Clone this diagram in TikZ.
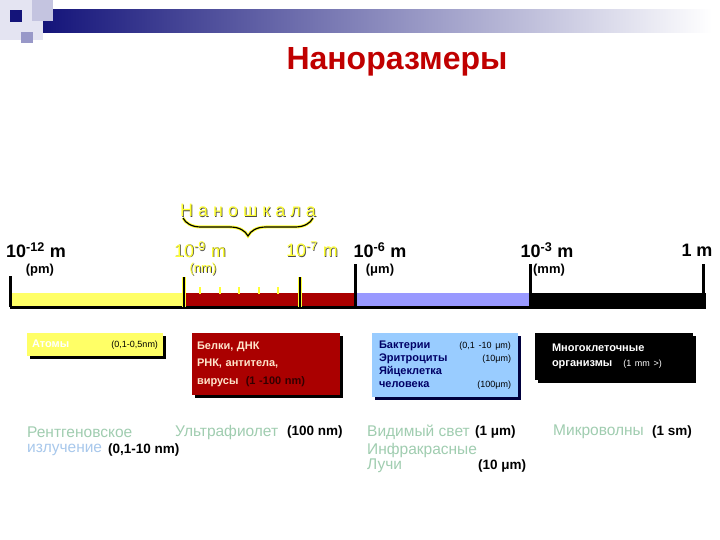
\documentclass[tikz,border=0pt]{standalone}
\usepackage{fontspec}
\setmainfont{Liberation Sans}
\usetikzlibrary{positioning,shadows,decorations.pathreplacing}

\definecolor{titlered}{HTML}{C00000}
\definecolor{navyband}{HTML}{14147A}
\definecolor{decolight}{HTML}{E4E4F2}
\definecolor{decomid}{HTML}{C4C4E0}
\definecolor{decodeep}{HTML}{9898C8}
\definecolor{nanoyellow}{HTML}{FFFF33}
\definecolor{baryellow}{HTML}{FFFF66}
\definecolor{barred}{HTML}{AA0000}
\definecolor{barviolet}{HTML}{9999FF}
\definecolor{cellblue}{HTML}{99CCFF}
\definecolor{cellnavy}{HTML}{000066}
\definecolor{protcream}{HTML}{FFE6CC}
\definecolor{wavegreen}{HTML}{A0CDB0}
\definecolor{waveblue}{HTML}{A8C8EC}

% yellow text with a dark shadow behind it
\newcommand{\glowtext}[1]{\makebox[0pt][l]{\kern0.8pt\raisebox{-0.8pt}{\color{black!70}#1}}{\color{nanoyellow}#1}}
\newcommand{\smallval}{\normalfont\fontsize{9}{10}\selectfont}

\tikzset{
  scalelbl/.style={font=\fontsize{18}{20}\selectfont\bfseries, inner sep=0pt},
  unitlbl/.style={font=\fontsize{13}{15}\selectfont\bfseries, inner sep=0pt},
  nanolbl/.style={font=\fontsize{18}{20}\selectfont, inner sep=0pt},
  nanounit/.style={font=\fontsize{13}{15}\selectfont, inner sep=0pt},
  bigtick/.style={line width=3pt},
  infobox/.style={inner ysep=3pt, align=left, font=\fontsize{11}{13}\selectfont\bfseries,
    drop shadow={shadow xshift=3pt, shadow yshift=-3pt, fill=black, opacity=1}},
  wave/.style={anchor=west, inner sep=0pt, font=\fontsize{15.5}{17}\selectfont},
  waveval/.style={wave, font=\fontsize{13.5}{15}\selectfont\bfseries}
}

\begin{document}
\begin{tikzpicture}[x=1pt, y=-1pt]
  \useasboundingbox[fill=white] (0,0) rectangle (720,540);

  % header band
  \fill[decolight] (0,0) rectangle (43,40);
  \shade[left color=navyband, right color=white] (43,10) rectangle (712,33);
  \fill[decomid] (32,0) rectangle (53,21);
  \fill[navyband] (10,10) rectangle (22,22);
  \fill[decodeep] (21,32) rectangle (33,43);
  \node[font=\fontsize{32}{36}\selectfont\bfseries, text=titlered] (title) at (397,62) {Наноразмеры};

  % nanoscale brace
  \node[font=\fontsize{18}{20}\selectfont, inner sep=0pt] (nanoscale) at (248,211) {\glowtext{Н а н о ш к а л а}};
  \draw[nanoyellow, line width=3pt, decorate, decoration={brace, mirror, amplitude=18pt}] (183,218) -- (313,218);
  \draw[line width=1.2pt, decorate, decoration={brace, mirror, amplitude=18pt}] (183,218) -- (313,218);

  % scale points
  \coordinate (pm) at (10,307);
  \coordinate (nm) at (184,307);
  \coordinate (hnm) at (300,307);
  \coordinate (um) at (355,307);
  \coordinate (mm) at (530,307);
  \coordinate (m) at (703,307);

  % coloured bar
  \fill[baryellow] (pm) ++(0,-14) rectangle (nm);
  \fill[barred] (nm) ++(0,-14) rectangle (um);
  \fill[barviolet] (um) ++(0,-14) rectangle (mm);
  \fill[black] (mm) ++(0,-14) rectangle (706,309);
  \draw[line width=3pt] (pm) -- (706,307);
  \foreach \x in {200,220,239,259,278}
    \draw[nanoyellow, line width=1.2pt] (\x,287) -- (\x,294);

  % ticks
  \draw[bigtick] (pm) -- ++(0,-31);
  \foreach \p in {nm,hnm}{
    \draw[nanoyellow, line width=4.5pt] (\p) -- ++(0,-30);
    \draw[line width=1.5pt] (\p) -- ++(0,-30);
  }
  \foreach \p in {um,mm,m}
    \draw[bigtick] (\p) -- ++(0,-43);

  % labels
  \node[scalelbl] (lpm) at (36,250) {10\textsuperscript{-12} m};
  \node[unitlbl] (upm) at (40,270) {(pm)};
  \node[nanolbl] (lnm) at (200,250) {\glowtext{10\textsuperscript{-9} m}};
  \node[nanounit] (unm) at (203,270) {\glowtext{(nm)}};
  \node[nanolbl] (lhnm) at (312,250) {\glowtext{10\textsuperscript{-7} m}};
  \node[scalelbl] (lum) at (380,250) {10\textsuperscript{-6} m};
  \node[unitlbl] (uum) at (380,270) {(μm)};
  \node[scalelbl] (lmm) at (547,250) {10\textsuperscript{-3} m};
  \node[unitlbl] (umm) at (549,270) {(mm)};
  \node[scalelbl] (lm) at (697,250) {1 m};

  % objects
  \node[infobox, fill=baryellow, text width=126pt, inner xsep=5pt, minimum height=23pt] (atoms) at (95,344.5)
    {{\color{white}Атомы}\hfill{\smallval (0,1-0,5nm)}};
  \node[infobox, fill=barred, text=protcream, text width=138pt, inner xsep=5pt, minimum height=62pt,
    font=\fontsize{11}{17.5}\selectfont\bfseries] (proteins) at (266,364)
    {Белки, ДНК\\РНК, антитела,\\вирусы \ {\color{black!80!red}(1 -100 nm)}};
  \node[infobox, fill=cellblue, text=cellnavy, text width=132pt, inner xsep=7pt, minimum height=64pt,
    drop shadow={shadow xshift=3pt, shadow yshift=-3pt, fill=cellnavy!60!black, opacity=1}] (cells) at (445,365)
    {Бактерии\hfill{\smallval\color{black}(0,1 -10 μm)}\\
     Эритроциты\hfill{\smallval\color{black}(10μm)}\\
     Яйцеклетка\\
     человека\hfill{\smallval\color{black}(100μm)}};
  \node[infobox, fill=black, text=white, text width=124pt, inner xsep=17pt, minimum height=47pt,
    font=\fontsize{11}{15}\selectfont\bfseries] (organisms) at (614,356.5)
    {Многоклеточные\\организмы\quad{\smallval (1 mm >)}};

  % radiation
  \node[wave, text=wavegreen] (xray) at (27,432) {Рентгеновское};
  \node[wave, text=waveblue] (xray2) at (27,450) {излучение};
  \node[waveval] (vxray) at (108,450) {(0,1-10 nm)};
  \node[wave, text=wavegreen] (uv) at (175,432) {Ультрафиолет};
  \node[waveval] (vuv) at (287,432) {(100 nm)};
  \node[wave, text=wavegreen] (vis) at (367,432) {Видимый свет};
  \node[waveval] (vvis) at (475,432) {(1 μm)};
  \node[wave, text=wavegreen] (ir) at (367,450) {Инфракрасные};
  \node[wave, text=wavegreen] (ir2) at (367,466) {Лучи};
  \node[waveval] (vir) at (478,466) {(10 μm)};
  \node[wave, text=wavegreen] (micro) at (553,432) {Микроволны};
  \node[waveval] (vmicro) at (652,432) {(1 sm)};
\end{tikzpicture}
\end{document}
